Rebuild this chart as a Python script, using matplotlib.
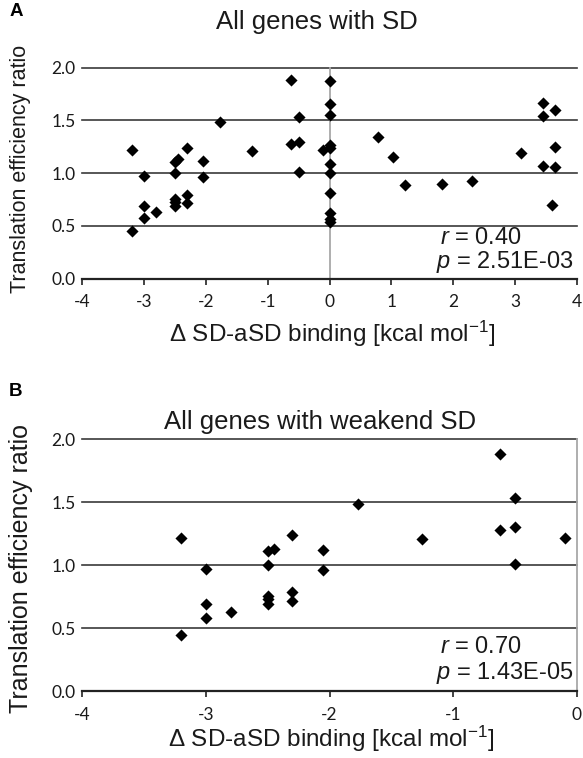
import matplotlib
matplotlib.use('Agg')
import matplotlib.pyplot as plt

plt.rcParams['font.family'] = ['Liberation Sans', 'DejaVu Sans']
plt.rcParams['mathtext.fontset'] = 'custom'
plt.rcParams['mathtext.rm'] = 'Liberation Sans'
plt.rcParams['mathtext.it'] = 'Liberation Sans:italic'

# ---- data ----
x_all = [-3.2, -3.2,
         -3.0, -3.0, -3.0,
         -2.8,
         -2.5, -2.45, -2.5, -2.5, -2.5, -2.5,
         -2.3, -2.3, -2.3,
         -2.05, -2.05,
         -1.77,
         -1.25,
         -0.62, -0.62,
         -0.5, -0.5, -0.5,
         -0.1,
         0.0, 0.0, 0.0, 0.0, 0.0, 0.0, 0.0, 0.0, 0.0, 0.0, 0.0,
         0.78, 1.03, 1.22, 1.82, 2.3, 3.1,
         3.45, 3.45, 3.45, 3.65, 3.65, 3.65, 3.6]
y_all = [1.22, 0.45,
         0.97, 0.69, 0.58,
         0.63,
         1.11, 1.13, 1.00, 0.76, 0.73, 0.69,
         1.24, 0.79, 0.72,
         1.12, 0.96,
         1.49,
         1.21,
         1.88, 1.28,
         1.53, 1.30, 1.01,
         1.22,
         1.87, 1.66, 1.55, 1.27, 1.24, 1.09, 1.00, 0.81, 0.62, 0.57, 0.54,
         1.34, 1.15, 0.89, 0.90, 0.93, 1.19,
         1.67, 1.54, 1.07, 1.60, 1.25, 1.06, 0.70]

# panel B: genes with weakened SD (negative binding change)
x_weak = [x for x in x_all if x < 0]
y_weak = [y for x, y in zip(x_all, y_all) if x < 0]

y_ticks = [0.0, 0.5, 1.0, 1.5, 2.0]
y_ticklabels = ['0.0', '0.5', '1.0', '1.5', '2.0']
x_ticks_A = [-4, -3, -2, -1, 0, 1, 2, 3, 4]
x_ticks_B = [-4, -3, -2, -1, 0]

title_A = 'All genes with SD'
title_B = 'All genes with weakend SD'
stats_A = ('0.40', '2.51E-03')
stats_B = ('0.70', '1.43E-05')
xlabel = 'Δ SD-aSD binding [kcal mol$^{\\mathregular{-1}}$]'
ylabel = 'Translation efficiency ratio'

txt_col = '#1a1a1a'
grid_col = '#3a3a3a'
axis0_col = '#a8a8a8'

fig = plt.figure(figsize=(5.83, 7.58), dpi=100)
axA = fig.add_axes([0.1407, 0.6323, 0.849, 0.2784])
axB = fig.add_axes([0.1407, 0.0880, 0.849, 0.3325])


def style(ax, xticks, xlim, ylab_size, ylab_x, ylab_y):
    ax.set_xlim(*xlim)
    ax.set_ylim(0, 2.0)
    for s in ['top', 'left', 'right']:
        ax.spines[s].set_visible(False)
    ax.spines['bottom'].set_color('#222222')
    ax.spines['bottom'].set_linewidth(1.6)
    for yv in y_ticks[1:]:
        ax.axhline(yv, color=grid_col, lw=1.2, zorder=1, clip_on=False)
    ax.axvline(0, color=axis0_col, lw=1.3, zorder=1, clip_on=False)
    ax.set_xticks(xticks)
    ax.set_xticklabels([str(v) for v in xticks], fontsize=12.5,
                       family=['Lato', 'DejaVu Sans'], color=txt_col)
    ax.set_yticks(y_ticks)
    ax.set_yticklabels(y_ticklabels, fontsize=12.5,
                       family=['Lato', 'DejaVu Sans'], color=txt_col)
    ax.tick_params(axis='x', direction='out', length=4, width=1.2,
                   color='#222222', pad=7)
    ax.tick_params(axis='y', length=0, pad=4.5)
    ax.set_ylabel(ylabel, fontsize=ylab_size, color=txt_col)
    ax.yaxis.set_label_coords(ylab_x, ylab_y)


style(axA, x_ticks_A, (-4, 4), 15.5, -0.103, 0.52)
style(axB, x_ticks_B, (-4, 0), 18.0, -0.099, 0.489)

axA.scatter(x_all, y_all, marker='D', s=38, color='black', zorder=3,
            linewidths=0, clip_on=False)
axB.scatter(x_weak, y_weak, marker='D', s=38, color='black', zorder=3,
            linewidths=0, clip_on=False)

axA.set_xlabel(xlabel, fontsize=17.5, color=txt_col)
axA.xaxis.set_label_coords(0.506, -0.19)
axB.set_xlabel(xlabel, fontsize=17.5, color=txt_col)
axB.xaxis.set_label_coords(0.503, -0.13)

axA.text(0.474, 1.215, title_A, transform=axA.transAxes, ha='center',
         va='center', fontsize=18.5, color=txt_col)
axB.text(0.481, 1.07, title_B, transform=axB.transAxes, ha='center',
         va='center', fontsize=18.5, color=txt_col)

axA.text(0.723, 0.193, '$r$ = ' + stats_A[0], transform=axA.transAxes,
         ha='left', va='center', fontsize=17, color=txt_col)
axA.text(0.715, 0.081, '$p$ = ' + stats_A[1], transform=axA.transAxes,
         ha='left', va='center', fontsize=17, color=txt_col)
axB.text(0.723, 0.176, '$r$ = ' + stats_B[0], transform=axB.transAxes,
         ha='left', va='center', fontsize=17, color=txt_col)
axB.text(0.715, 0.073, '$p$ = ' + stats_B[1], transform=axB.transAxes,
         ha='left', va='center', fontsize=17, color=txt_col)

fig.text(16 / 583, 1 - 12 / 758, 'A', ha='center', va='center',
         fontsize=13.5, fontweight='bold', color='black')
fig.text(16 / 583, 1 - 391 / 758, 'B', ha='center', va='center',
         fontsize=13.5, fontweight='bold', color='black')

fig.savefig('out.png', dpi=100)
